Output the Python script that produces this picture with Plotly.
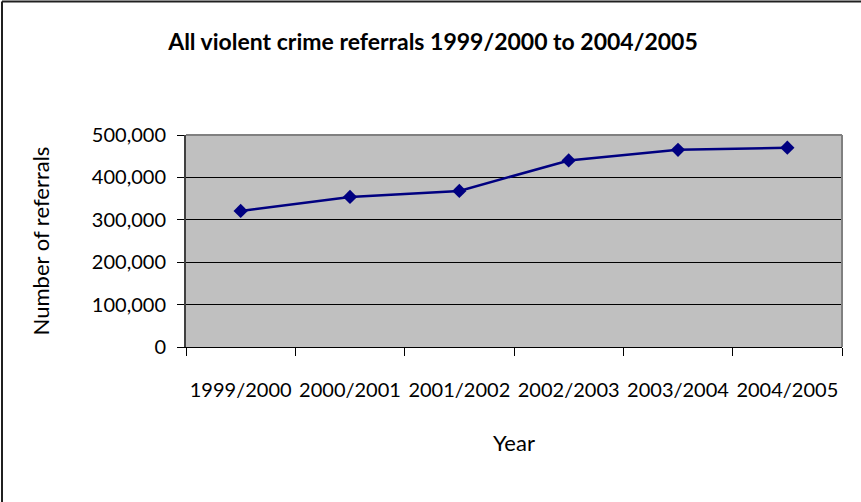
import plotly.graph_objects as go

# Financial years and the number of violent crime referrals in each
years = ["1999/2000", "2000/2001", "2001/2002", "2002/2003", "2003/2004", "2004/2005"]
referrals = [321000, 354000, 368000, 440000, 465000, 470000]

y_ticks = [0, 100000, 200000, 300000, 400000, 500000]
y_tick_text = ["0", "100,000", "200,000", "300,000", "400,000", "500,000"]

W, H = 861, 502
L, R, T, B = 186, 19, 135, 155
pw, ph = W - L - R, H - T - B

FONT = "Lato"


def px_x(x):
    return (x - L) / pw


def px_y(y):
    return (H - B - y) / ph


fig = go.Figure()
fig.add_trace(go.Scatter(
    x=years, y=referrals, mode="lines+markers",
    line=dict(color="#000080", width=2.5),
    marker=dict(symbol="diamond", size=11, color="#000080"),
    showlegend=False,
))

fig.update_layout(
    width=W, height=H,
    margin=dict(l=L, r=R, t=T, b=B, autoexpand=False),
    paper_bgcolor="white",
    plot_bgcolor="#C0C0C0",
    font=dict(family=FONT, size=20, color="black"),
    title=dict(
        text="<b>All violent crime referrals 1999/2000 to 2004/2005</b>",
        font=dict(family=FONT, size=23, color="black"),
        xref="container", x=433 / W, xanchor="center",
        yref="container", y=1 - 42 / H, yanchor="middle",
    ),
    xaxis=dict(
        type="category",
        tickson="boundaries",
        ticks="outside", ticklen=8, tickcolor="black", tickwidth=1,
        showline=True, linecolor="black", linewidth=1,
        showgrid=False, zeroline=False,
        tickangle=0,
        ticklabelstandoff=25,
        tickfont=dict(size=20),
        title=dict(text="Year", standoff=35, font=dict(size=22)),
        range=[-0.5, 5.5],
    ),
    yaxis=dict(
        range=[0, 500000],
        tickvals=y_ticks, ticktext=y_tick_text,
        ticks="outside", ticklen=7, tickcolor="black", tickwidth=1,
        showline=True, linecolor="#404040", linewidth=2,
        showgrid=True, gridcolor="black", gridwidth=1,
        zeroline=False,
        ticklabelstandoff=7,
        tickfont=dict(size=20),
        title=dict(text="Number of referrals", standoff=36, font=dict(size=22)),
    ),
    shapes=[
        # grey frame on the top and right of the plot area
        dict(type="line", xref="paper", yref="paper", x0=0, x1=1, y0=1, y1=1,
             line=dict(color="#808080", width=2)),
        dict(type="line", xref="paper", yref="paper", x0=1, x1=1, y0=0, y1=1,
             line=dict(color="#808080", width=2)),
        # outer chart border (left and top edges)
        dict(type="line", xref="paper", yref="paper",
             x0=px_x(2), x1=px_x(2), y0=px_y(H), y1=px_y(1.5),
             line=dict(color="#202020", width=2), layer="above"),
        dict(type="line", xref="paper", yref="paper",
             x0=px_x(2), x1=px_x(W), y0=px_y(1.5), y1=px_y(1.5),
             line=dict(color="#202020", width=2), layer="above"),
    ],
)

fig.write_html("out.html", config={"displayModeBar": False})
